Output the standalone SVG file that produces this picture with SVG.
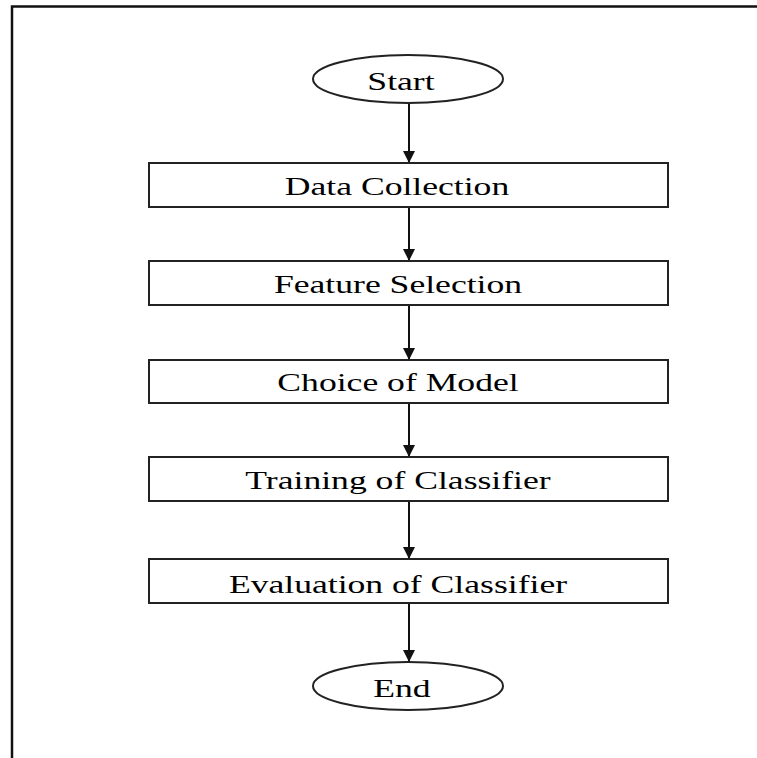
<svg xmlns="http://www.w3.org/2000/svg" width="757" height="758" viewBox="0 0 757 758">
<style>
.box{fill:#fff;stroke:#222;stroke-width:2}
.lbl{font-family:"Liberation Serif","Times New Roman",serif;font-size:26px;fill:#000;text-anchor:middle}
.con{stroke:#111;stroke-width:2;fill:none}
</style>
<defs>
<marker id="ah" markerWidth="12" markerHeight="12" viewBox="0 0 12 12" refX="12" refY="6" orient="auto" markerUnits="userSpaceOnUse">
<path d="M0,0 L12,6 L0,12 Z" fill="#111"/>
</marker>
</defs>
<rect width="757" height="758" fill="#fff"/>
<rect x="12" y="6.5" width="800" height="800" fill="none" stroke="#111" stroke-width="2.5"/>
<g id="connectors">
<line class="con" x1="409" y1="103" x2="409" y2="163" marker-end="url(#ah)"/>
<line class="con" x1="409" y1="207" x2="409" y2="261" marker-end="url(#ah)"/>
<line class="con" x1="409" y1="305" x2="409" y2="360" marker-end="url(#ah)"/>
<line class="con" x1="409" y1="403" x2="409" y2="457" marker-end="url(#ah)"/>
<line class="con" x1="409" y1="501" x2="409" y2="559" marker-end="url(#ah)"/>
<line class="con" x1="409" y1="603" x2="409" y2="662" marker-end="url(#ah)"/>
</g>
<g id="start">
<ellipse class="box" cx="408" cy="79" rx="95" ry="24"/>
<text class="lbl" transform="translate(401,90) scale(1.37,1)">Start</text>
</g>
<g id="data-collection">
<rect class="box" x="149" y="163" width="519" height="44"/>
<text class="lbl" transform="translate(397,195) scale(1.37,1)">Data Collection</text>
</g>
<g id="feature-selection">
<rect class="box" x="149" y="261" width="519" height="44"/>
<text class="lbl" transform="translate(398,293) scale(1.37,1)">Feature Selection</text>
</g>
<g id="choice-of-model">
<rect class="box" x="149" y="360" width="519" height="43"/>
<text class="lbl" transform="translate(398,391) scale(1.37,1)">Choice of Model</text>
</g>
<g id="training">
<rect class="box" x="149" y="457" width="519" height="44"/>
<text class="lbl" transform="translate(398,489) scale(1.37,1)">Training of Classifier</text>
</g>
<g id="evaluation">
<rect class="box" x="149" y="559" width="519" height="44"/>
<text class="lbl" transform="translate(398,593) scale(1.37,1)">Evaluation of Classifier</text>
</g>
<g id="end">
<ellipse class="box" cx="408" cy="686" rx="95" ry="24"/>
<text class="lbl" transform="translate(402,697) scale(1.37,1)">End</text>
</g>
</svg>
